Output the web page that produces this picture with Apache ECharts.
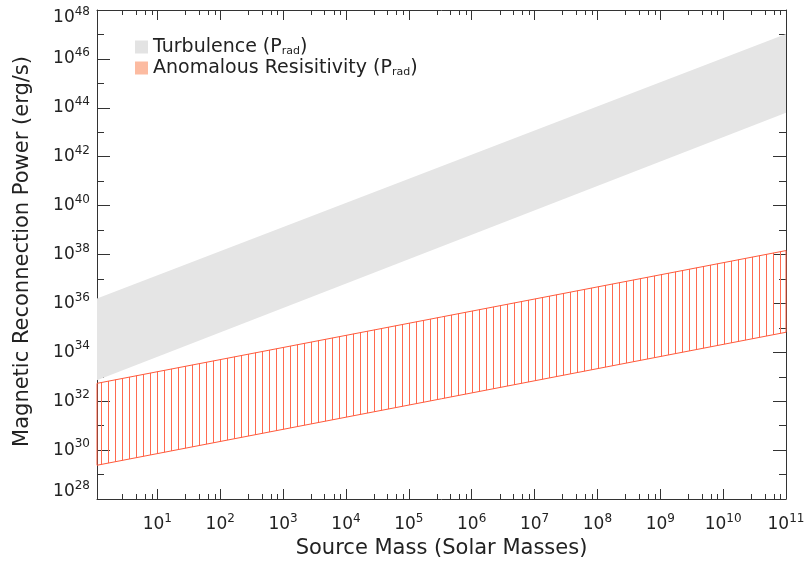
<!DOCTYPE html>
<html>
<head>
<meta charset="utf-8">
<script src="https://cdn.jsdelivr.net/npm/echarts@6/dist/echarts.min.js"></script>
<style>
  html, body { margin: 0; padding: 0; background: #fff; }
  #chart { width: 805px; height: 568px; }
</style>
</head>
<body>
<div id="chart"></div>
<script>
// everything is in log10 space: x = log10(solar masses), y = log10(erg/s)
const massExp = [0.04, 11];
const turbLow = [32.86, 43.8];
const turbHigh = [36.2, 47.02];
const anomLow = [29.38, 34.82];
const anomHigh = [32.73, 38.16];

// tick labels
const xTickExp = [1, 2, 3, 4, 5, 6, 7, 8, 9, 10, 11];
const xMinorMantissa = [2.8, 4.6, 6.4, 8.2];
const yMin = 28;
const yMax = 48;

const FONT = 'DejaVu Sans';
const INK = '#222';
const FRAME = '#333';

const xMinorTicks = [];
for (let d = 0; d < 11; d++) {
  xMinorMantissa.forEach(m => {
    const v = d + Math.log10(m);
    if (v > massExp[0]) xMinorTicks.push(v);
  });
}

// vertical hatch for the anomalous resistivity band
const hatch = document.createElement('canvas');
hatch.width = 7;
hatch.height = 4;
const hctx = hatch.getContext('2d');
hctx.fillStyle = '#ff6a4f';
hctx.fillRect(3, 0, 1, 4);

const powLabel = {
  fontFamily: FONT,
  color: INK,
  rich: {
    b: { fontFamily: FONT, fontSize: 17, lineHeight: 24, color: INK },
    s: { fontFamily: FONT, fontSize: 12, lineHeight: 12, verticalAlign: 'top', color: INK },
    // spacer lines nudge the end labels of the y axis inside the frame
    gt: { fontSize: 1, lineHeight: 16 },
    gb: { fontSize: 1, lineHeight: 14 },
  },
};
const powFormatter = v => `{b|10}{s|${Math.round(v)}}`;
const yFormatter = v => {
  const e = Math.round(v);
  if (e === yMax) return `{gt| }\n{b|10}{s|${e}}`;
  if (e === yMin) return `{b|10}{s|${e}}\n{gb| }`;
  return `{b|10}{s|${e}}`;
};

const bandItem = (lo, hi, style) => (params, api) => {
  if (params.dataIndex !== 0) return null;
  const pts = massExp.map((x, i) => api.coord([x, lo[i]]));
  for (let i = massExp.length - 1; i >= 0; i--) {
    pts.push(api.coord([massExp[i], hi[i]]));
  }
  return { type: 'polygon', shape: { points: pts }, style };
};

const xBase = {
  type: 'value',
  min: massExp[0],
  max: massExp[massExp.length - 1],
  splitLine: { show: false },
  axisLine: { show: false, onZero: false },
  axisLabel: { show: false },
};

const chart = echarts.init(document.getElementById('chart'));
chart.setOption({
  animation: false,
  backgroundColor: '#fff',
  grid: { left: 97, right: 19, top: 10, bottom: 69, containLabel: false, outerBoundsMode: 'none' },
  legend: {
    left: 130,
    top: 32,
    orient: 'vertical',
    itemWidth: 13,
    itemHeight: 13,
    itemGap: 1,
    selectedMode: false,
    data: [
      { name: 'Turbulence', icon: 'rect', itemStyle: { color: '#e3e3e3' } },
      { name: 'Anomalous Resisitivity', icon: 'rect', itemStyle: { color: '#fcbba1' } },
    ],
    formatter: name => `${name} (P{s|rad})`,
    textStyle: {
      fontFamily: FONT,
      fontSize: 19,
      lineHeight: 20,
      color: INK,
      rich: {
        s: { fontFamily: FONT, fontSize: 11, lineHeight: 11, verticalAlign: 'bottom', color: INK },
      },
    },
  },
  xAxis: [
    {
      ...xBase,
      position: 'bottom',
      name: 'Source Mass (Solar Masses)',
      nameLocation: 'middle',
      nameGap: 37,
      nameTextStyle: { fontFamily: FONT, fontSize: 21, color: INK },
      axisLine: { show: true, onZero: false, lineStyle: { color: FRAME, width: 1 } },
      axisTick: { show: true, inside: true, length: 10, customValues: xTickExp, lineStyle: { color: FRAME } },
      axisLabel: { show: true, margin: 14, customValues: xTickExp, formatter: powFormatter, ...powLabel },
    },
    {
      ...xBase,
      position: 'bottom',
      axisTick: { show: true, inside: true, length: 5, customValues: xMinorTicks, lineStyle: { color: FRAME } },
    },
    {
      ...xBase,
      position: 'top',
      axisLine: { show: true, onZero: false, lineStyle: { color: FRAME, width: 1 } },
      axisTick: { show: true, inside: true, length: 10, customValues: xTickExp, lineStyle: { color: FRAME } },
    },
    {
      ...xBase,
      position: 'top',
      axisTick: { show: true, inside: true, length: 5, customValues: xMinorTicks, lineStyle: { color: FRAME } },
    },
  ],
  yAxis: [
    {
      type: 'value',
      position: 'left',
      min: yMin,
      max: yMax,
      interval: 2,
      name: 'Magnetic Reconnection Power (erg/s)',
      nameLocation: 'middle',
      nameGap: 64,
      nameTextStyle: { fontFamily: FONT, fontSize: 21, color: INK, padding: [0, 0, 0, 6] },
      splitLine: { show: false },
      axisLine: { show: true, onZero: false, lineStyle: { color: FRAME, width: 1 } },
      axisTick: { show: true, inside: true, length: 13, lineStyle: { color: FRAME } },
      minorTick: { show: true, splitNumber: 2, length: 7, lineStyle: { color: FRAME } },
      axisLabel: { margin: 7, formatter: yFormatter, ...powLabel },
    },
    {
      type: 'value',
      position: 'right',
      min: yMin,
      max: yMax,
      interval: 2,
      splitLine: { show: false },
      axisLine: { show: true, onZero: false, lineStyle: { color: FRAME, width: 1 } },
      axisTick: { show: true, inside: true, length: 13, lineStyle: { color: FRAME } },
      minorTick: { show: true, splitNumber: 2, length: 7, lineStyle: { color: FRAME } },
      axisLabel: { show: false },
    },
  ],
  series: [
    {
      name: 'Turbulence',
      type: 'custom',
      xAxisIndex: 0,
      yAxisIndex: 0,
      encode: { x: 0, y: [1, 2] },
      data: massExp.map((x, i) => [x, turbLow[i], turbHigh[i]]),
      renderItem: bandItem(turbLow, turbHigh, { fill: '#e5e5e5', stroke: null }),
    },
    {
      name: 'Anomalous Resisitivity',
      type: 'custom',
      xAxisIndex: 0,
      yAxisIndex: 0,
      encode: { x: 0, y: [1, 2] },
      data: massExp.map((x, i) => [x, anomLow[i], anomHigh[i]]),
      renderItem: bandItem(anomLow, anomHigh, {
        fill: { image: hatch, repeat: 'repeat' },
        stroke: '#ff5a3c',
        lineWidth: 1,
      }),
    },
  ],
});
</script>
</body>
</html>
